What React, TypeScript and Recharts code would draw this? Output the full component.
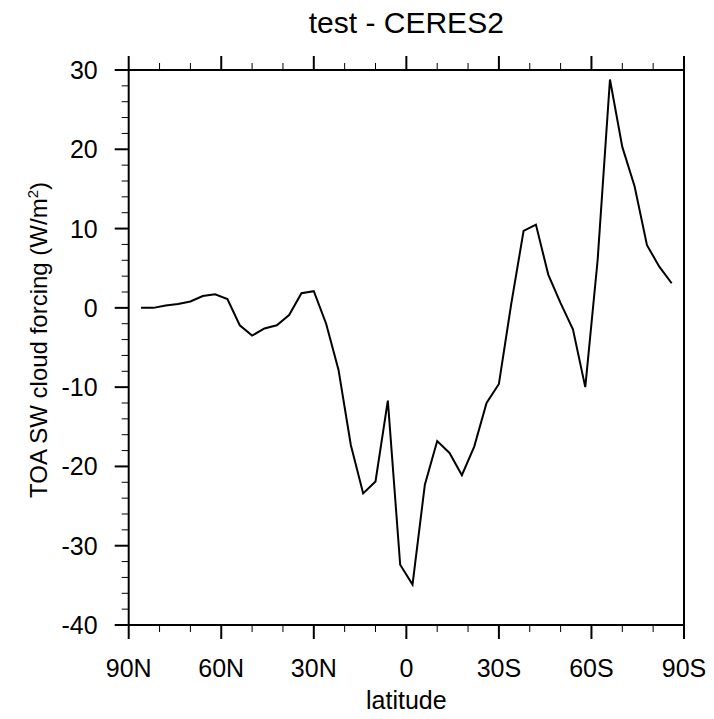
import { LineChart, Line, XAxis, YAxis } from "recharts";

// latitude in degrees north (negative = south)
const latitudes = [
    86, 82, 78, 74, 70, 66, 62, 58, 54, 50, 46, 42, 38, 34, 30, 26, 22, 18, 14, 10, 6, 2,
    -2, -6, -10, -14, -18, -22, -26, -30, -34, -38, -42, -46, -50, -54, -58, -62, -66, -70, -74, -78, -82, -86,
];
const swcf = [
    0.0, 0.0, 0.3, 0.5, 0.8, 1.5, 1.7, 1.1, -2.2, -3.5, -2.6, -2.2, -0.9, 1.85, 2.1, -2.0, -7.8, -17.3, -23.4, -21.9, -11.7, -32.4,
    -34.9, -22.3, -16.8, -18.3, -21.1, -17.5, -12.0, -9.6, 0.5, 9.7, 10.5, 4.2, 0.6, -2.7, -10.0, 6.0, 28.8, 20.3, 15.3, 7.9, 5.2, 3.1,
];

const xTicks = [90, 80, 70, 60, 50, 40, 30, 20, 10, 0, -10, -20, -30, -40, -50, -60, -70, -80, -90];
const yTicks = [
    -40, -38, -36, -34, -32, -30, -28, -26, -24, -22, -20, -18, -16, -14, -12, -10, -8, -6, -4, -2,
    0, 2, 4, 6, 8, 10, 12, 14, 16, 18, 20, 22, 24, 26, 28, 30,
];

const chartData = latitudes.map((lat, i) => ({ lat, value: swcf[i] }));

const FONT = "'Liberation Sans', Arial, Helvetica, sans-serif";
const MAJOR = 14;
const MINOR = 7;

function latLabel(v: number) {
    if (v === 0) return "0";
    return v > 0 ? `${v}N` : `${-v}S`;
}

function BottomTick(props: any) {
    const { x, y, payload } = props;
    const major = payload.value % 30 === 0;
    return (
        <g>
            <line x1={x} x2={x} y1={y} y2={y + (major ? MAJOR : MINOR)} stroke="#000" strokeWidth={major ? 2 : 1} />
            {major && (
                <text x={x} y={y + 52} textAnchor="middle" fontSize={25} fontFamily={FONT} fill="#000">
                    {latLabel(payload.value)}
                </text>
            )}
        </g>
    );
}

function TopTick(props: any) {
    const { x, y, payload } = props;
    const major = payload.value % 30 === 0;
    return <line x1={x} x2={x} y1={y} y2={y - (major ? MAJOR : MINOR)} stroke="#000" strokeWidth={major ? 2 : 1} />;
}

function LeftTick(props: any) {
    const { x, y, payload } = props;
    const major = payload.value % 10 === 0;
    return (
        <g>
            <line x1={x} x2={x - (major ? MAJOR : MINOR)} y1={y} y2={y} stroke="#000" strokeWidth={major ? 2 : 1} />
            {major && (
                <text x={x - 31} y={y} dy="0.36em" textAnchor="end" fontSize={25} fontFamily={FONT} fill="#000">
                    {payload.value}
                </text>
            )}
        </g>
    );
}

function RightTick(props: any) {
    const { x, y, payload } = props;
    const major = payload.value % 10 === 0;
    return <line x1={x} x2={x + (major ? MAJOR : MINOR)} y1={y} y2={y} stroke="#000" strokeWidth={major ? 2 : 1} />;
}

export default function App() {
    const axisLine = { stroke: "#000", strokeWidth: 2 };
    return (
        <div style={{ position: "absolute", left: 0, top: 0, background: "#fff" }}>
            <LineChart width={714} height={719} data={chartData} margin={{ top: 69, right: 29, bottom: 93, left: 127.7 }}>
                <XAxis
                    xAxisId="bottom"
                    dataKey="lat"
                    type="number"
                    domain={[-90, 90]}
                    reversed
                    ticks={xTicks}
                    interval={0}
                    height={1}
                    tickSize={0}
                    tickMargin={0}
                    tickLine={false}
                    axisLine={axisLine}
                    tick={<BottomTick />}
                />
                <XAxis
                    xAxisId="top"
                    orientation="top"
                    dataKey="lat"
                    type="number"
                    domain={[-90, 90]}
                    reversed
                    ticks={xTicks}
                    interval={0}
                    height={1}
                    tickSize={0}
                    tickMargin={0}
                    tickLine={false}
                    axisLine={axisLine}
                    tick={<TopTick />}
                />
                <YAxis
                    yAxisId="left"
                    type="number"
                    domain={[-40, 30]}
                    ticks={yTicks}
                    interval={0}
                    width={1}
                    tickSize={0}
                    tickMargin={0}
                    tickLine={false}
                    axisLine={axisLine}
                    tick={<LeftTick />}
                />
                <YAxis
                    yAxisId="right"
                    orientation="right"
                    type="number"
                    domain={[-40, 30]}
                    ticks={yTicks}
                    interval={0}
                    width={1}
                    tickSize={0}
                    tickMargin={0}
                    tickLine={false}
                    axisLine={axisLine}
                    tick={<RightTick />}
                />
                <Line
                    xAxisId="bottom"
                    yAxisId="left"
                    type="linear"
                    dataKey="value"
                    stroke="#000"
                    strokeWidth={2}
                    dot={false}
                    isAnimationActive={false}
                />
                <text x={406.3} y={33} textAnchor="middle" fontSize={30} fontFamily={FONT} fill="#000">
                    test - CERES2
                </text>
                <text x={406.3} y={709} textAnchor="middle" fontSize={25} fontFamily={FONT} fill="#000">
                    latitude
                </text>
                <text
                    x={0}
                    y={0}
                    transform="translate(47, 340) rotate(-90)"
                    textAnchor="middle"
                    fontSize={24}
                    fontFamily={FONT}
                    fill="#000"
                >
                    TOA SW cloud forcing (W/m
                    <tspan dy={-9} fontSize={15}>2</tspan>
                    <tspan dy={9}>)</tspan>
                </text>
            </LineChart>
        </div>
    );
}
